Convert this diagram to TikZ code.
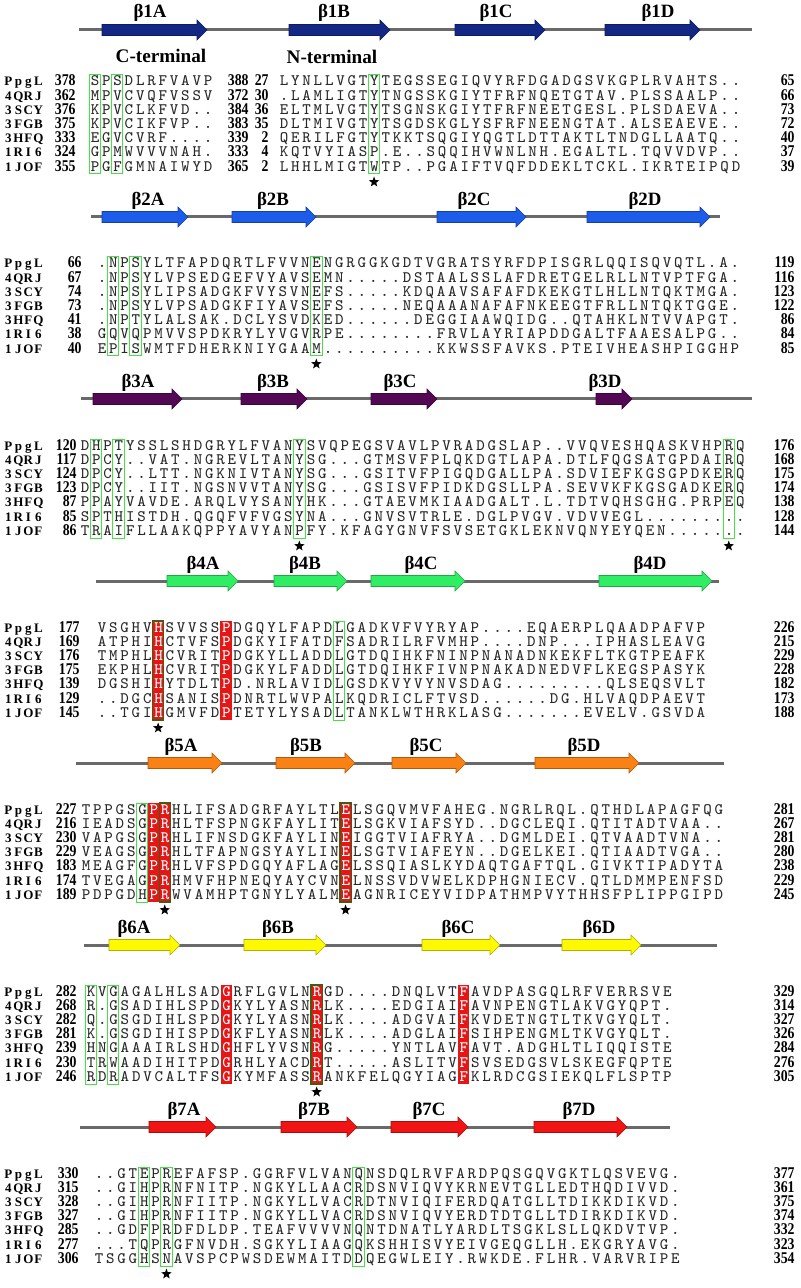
\documentclass[tikz,border=0pt]{standalone}
\usepackage{fontspec}
\newfontfamily\serifbf{Liberation Serif}
\newfontfamily\numfont{Liberation Serif}[FakeStretch=0.84]
\usetikzlibrary{shapes.geometric}
\definecolor{ink}{RGB}{40,40,40}
\definecolor{slate}{RGB}{105,105,105}
\definecolor{navy}{RGB}{18,40,132}
\definecolor{royal}{RGB}{28,92,232}
\definecolor{plum}{RGB}{82,8,82}
\definecolor{mint}{RGB}{48,238,100}
\definecolor{amber}{RGB}{250,130,20}
\definecolor{lemon}{RGB}{255,250,0}
\definecolor{crimson}{RGB}{240,20,20}
\definecolor{consred}{RGB}{228,22,22}
\definecolor{boxgreen}{RGB}{70,225,70}
\definecolor{olive}{RGB}{70,90,20}

% one character per fixed cell; "!" makes the next one white
\newlength\cellwd
\def\cellloop#1{\ifx#1\relax\let\cellnext\relax\else\ifx#1!\let\cellnext\cellwhite\else\makebox[\cellwd]{#1}\let\cellnext\cellloop\fi\fi\cellnext}
\def\cellwhite#1{\makebox[\cellwd]{\textcolor{white}{#1}}\cellloop}
\newcommand\seq[1]{{\setlength\cellwd{5.65pt}\cellloop#1\relax}}
\newcommand\molname[1]{{\setlength\cellwd{5pt}\cellloop#1\relax}}
\def\pw{11.3}

\tikzset{
  molname/.style={anchor=base west, inner sep=0pt, font=\serifbf\bfseries\fontsize{6.5}{6.5}\selectfont},
  resnum/.style={anchor=base east, inner sep=0pt, font=\numfont\bfseries\fontsize{8.2}{8.2}\selectfont},
  seqtxt/.style={anchor=base west, inner sep=0pt, text=ink, font=\ttfamily\fontsize{8}{8}\selectfont},
  strandlab/.style={inner sep=0pt, font=\serifbf\bfseries\fontsize{9.4}{9.4}\selectfont},
  termlab/.style={inner sep=0pt, font=\serifbf\bfseries\fontsize{9.6}{9.6}\selectfont},
  loopline/.style={line width=1.5pt, draw=slate},
  simbox/.style={draw=boxgreen, line width=0.5pt},
  framebox/.style={draw=olive, line width=0.6pt},
  starmark/.style={star, star points=5, star point ratio=2.4, fill=black, inner sep=0pt, minimum size=5.5pt},
}

\newcommand\strand[4]{\filldraw[fill=#4, draw=#4!70!black, line width=0.3pt] (#1,{#3-5.5}) -- ({#2-10},{#3-5.5}) -- ({#2-10},{#3-10}) -- (#2,#3) -- ({#2-10},{#3+10}) -- ({#2-10},{#3+5.5}) -- (#1,{#3+5.5}) -- cycle;}
\newcommand\redcol[3]{\fill[consred] ({\seqx+#1*\pw},#2) rectangle ({\seqx+(#1+1)*\pw},#3);}
\newcommand\greencol[3]{\draw[simbox] ({\seqx+#1*\pw},#2) rectangle ({\seqx+(#1+1)*\pw},#3);}
\newcommand\framecol[3]{\draw[framebox] ({\seqx+#1*\pw},#2) rectangle ({\seqx+(#1+1)*\pw},#3);}
\newcommand\starat[3]{\node[starmark] (#1) at ({\seqx+(#2+0.5)*\pw},#3) {};}
\newcommand\seqrow[6]{%
  \node[molname] (#1-n) at (3,{#2+4}) {\molname{#3}};
  \node[resnum] (#1-s) at (\numx,{#2+4}) {#4};
  \node[seqtxt] (#1-q) at (\seqx,{#2+4}) {\seq{#5}};
  \node[resnum] (#1-e) at (795,{#2+4}) {#6};}
\newcommand\splitrow[9]{%
  \node[molname] (#1-n) at (3,{#2+4}) {\molname{#3}};
  \node[resnum] (#1-s) at (76,{#2+4}) {#4};
  \node[seqtxt] (#1-q) at (89,{#2+4}) {\seq{#5}};
  \node[resnum] (#1-m) at (249,{#2+4}) {#6};
  \node[resnum] (#1-t) at (269,{#2+4}) {#7};
  \node[seqtxt] (#1-r) at (278,{#2+4}) {\seq{#8}};
  \node[resnum] (#1-e) at (795,{#2+4}) {#9};}

\begin{document}
\begin{tikzpicture}[x=0.5pt,y=-0.5pt]
  \fill[white] (0,0) rectangle (800,1288);
  \useasboundingbox (0,0) rectangle (800,1288);
  % ===================== block 1 =====================
  \draw[loopline] (79,30) -- (752,30);
  \strand{102}{207}{30}{navy} \strand{289}{390}{30}{navy}
  \strand{455}{545}{30}{navy} \strand{605}{700}{30}{navy}
  \node[strandlab] (b1A) at (150,13) {β1A};
  \node[strandlab] (b1B) at (334,13) {β1B};
  \node[strandlab] (b1C) at (496,13) {β1C};
  \node[strandlab] (b1D) at (658,13) {β1D};
  \node[termlab] (cterm) at (161,56) {C-terminal};
  \node[termlab] (nterm) at (332,57) {N-terminal};
  \splitrow{r1a}{82}{PpgL}{378}{SPSDLRFVAVP}{388}{27}{LYNLLVGTYTEGSSEGIQVYRFDGADGSVKGPLRVAHTS..}{65}
  \splitrow{r1b}{96.2}{4QRJ}{362}{MPVCVQFVSSV}{372}{30}{.LAMLIGTYTNGSSKGIYTFRFNQETGTAV.PLSSAALP..}{66}
  \splitrow{r1c}{110.4}{3SCY}{376}{KPVCLKFVD..}{384}{36}{ELTMLVGTYTSGNSKGIYTFRFNEETGESL.PLSDAEVA..}{73}
  \splitrow{r1d}{124.6}{3FGB}{375}{KPVCIKFVP..}{383}{35}{DLTMIVGTYTSGDSKGLYSFRFNEENGTAT.ALSEAEVE..}{72}
  \splitrow{r1e}{138.8}{3HFQ}{333}{EGVCVRF....}{339}{2}{QERILFGTYTKKTSQGIYQGTLDTTAKTLTNDGLLAATQ..}{40}
  \splitrow{r1f}{153}{1RI6}{324}{GPMWVVVNAH.}{333}{4}{KQTVYIASP.E..SQQIHVWNLNH.EGALTL.TQVVDVP..}{37}
  \splitrow{r1g}{167.2}{1JOF}{355}{PGFGMNAIWYD}{365}{2}{LHHLMIGTWTP..PGAIFTVQFDDEKLTCKL.IKRTEIPQD}{39}
  \def\seqx{89}
  \greencol{0}{75}{174} \greencol{2}{75}{174}
  \def\seqx{278}
  \greencol{8}{75}{174}
  \starat{s1}{8}{182}
  % ===================== block 2 =====================
  \def\numx{82}\def\seqx{96}
  \draw[loopline] (91,217) -- (720,217);
  \strand{102}{188}{217}{royal} \strand{232}{316}{217}{royal}
  \strand{437}{526}{217}{royal} \strand{587}{710}{217}{royal}
  \node[strandlab] (b2A) at (148,201) {β2A};
  \node[strandlab] (b2B) at (273,201) {β2B};
  \node[strandlab] (b2C) at (474,201) {β2C};
  \node[strandlab] (b2D) at (645,201) {β2D};
  \seqrow{r2a}{264}{PpgL}{66}{.NPSYLTFAPDQRTLFVVNENGRGGKGDTVGRATSYRFDPISGRLQQISQVQTL.A.}{119}
  \seqrow{r2b}{278.2}{4QRJ}{67}{.NPSYLVPSEDGEFVYAVSEMN.....DSTAALSSLAFDRETGELRLLNTVPTFGA.}{116}
  \seqrow{r2c}{292.4}{3SCY}{74}{.NPSYLIPSADGKFVYSVNEFS.....KDQAAVSAFAFDKEKGTLHLLNTQKTMGA.}{123}
  \seqrow{r2d}{306.6}{3FGB}{73}{.NPSYLVPSADGKFIYAVSEFS.....NEQAAANAFAFNKEEGTFRLLNTQKTGGE.}{122}
  \seqrow{r2e}{320.8}{3HFQ}{41}{.NPTYLALSAK.DCLYSVDKED......DEGGIAAWQIDG..QTAHKLNTVVAPGT.}{86}
  \seqrow{r2f}{335}{1RI6}{38}{GQVQPMVVSPDKRYLYVGVRPE........FRVLAYRIAPDDGALTFAAESALPG..}{84}
  \seqrow{r2g}{349.2}{1JOF}{40}{EPISWMTFDHERKNIYGAAM..........KKWSSFAVKS.PTEIVHEASHPIGGHP}{85}
  \greencol{1}{257}{356} \greencol{3}{257}{356} \greencol{19}{257}{356}
  \starat{s2}{19}{364}
  % ===================== block 3 =====================
  \def\numx{77}\def\seqx{79}
  \draw[loopline] (81,399) -- (752,399);
  \strand{93}{182}{399}{plum} \strand{241}{307}{399}{plum}
  \strand{371}{437}{399}{plum} \strand{596}{632}{399}{plum}
  \node[strandlab] (b3A) at (138,383) {β3A};
  \node[strandlab] (b3B) at (273,383) {β3B};
  \node[strandlab] (b3C) at (400,383) {β3C};
  \node[strandlab] (b3D) at (605,383) {β3D};
  \seqrow{r3a}{446}{PpgL}{120}{DHPTYSSLSHDGRYLFVANYSVQPEGSVAVLPVRADGSLAP..VVQVESHQASKVHPRQ}{176}
  \seqrow{r3b}{460.2}{4QRJ}{117}{DPCY..VAT.NGREVLTANYSG...GTMSVFPLQKDGTLAPA.DTLFQGSATGPDAIRQ}{168}
  \seqrow{r3c}{474.4}{3SCY}{124}{DPCY..LTT.NGKNIVTANYSG...GSITVFPIGQDGALLPA.SDVIEFKGSGPDKERQ}{175}
  \seqrow{r3d}{488.6}{3FGB}{123}{DPCY..IIT.NGSNVVTANYSG...GSISVFPIDKDGSLLPA.SEVVKFKGSGADKERQ}{174}
  \seqrow{r3e}{502.8}{3HFQ}{87}{PPAYVAVDE.ARQLVYSANYHK...GTAEVMKIAADGALT.L.TDTVQHSGHG.PRPEQ}{138}
  \seqrow{r3f}{517}{1RI6}{85}{SPTHISTDH.QGQFVFVGSYNA...GNVSVTRLE.DGLPVGV.VDVVEGL.........}{128}
  \seqrow{r3g}{531.2}{1JOF}{86}{TRAIFLLAAKQPPYAVYANPFY.KFAGYGNVFSVSETGKLEKNVQNYEYQEN.......}{144}
  \greencol{1}{439}{538} \greencol{3}{439}{538} \greencol{19}{439}{538} \greencol{57}{439}{538}
  \starat{s3a}{19}{546} \starat{s3b}{57}{546}
  % ===================== block 4 =====================
  \def\numx{80}\def\seqx{96}
  \draw[loopline] (96,581) -- (719,581);
  \strand{167}{238}{581}{mint} \strand{274}{347}{581}{mint}
  \strand{371}{465}{581}{mint} \strand{599}{712}{581}{mint}
  \node[strandlab] (b4A) at (203,565) {β4A};
  \node[strandlab] (b4B) at (305,565) {β4B};
  \node[strandlab] (b4C) at (421,565) {β4C};
  \node[strandlab] (b4D) at (650,565) {β4D};
  \redcol{5}{621}{720} \redcol{11}{621}{720}
  \seqrow{r4a}{628}{PpgL}{177}{VSGHV!HSVVSS!PDGQYLFAPDLGADKVFVYRYAP....EQAERPLQAADPAFVP}{226}
  \seqrow{r4b}{642.2}{4QRJ}{169}{ATPHI!HCTVFS!PDGKYIFATDFSADRILRFVMHP....DNP...IPHASLEAVG}{215}
  \seqrow{r4c}{656.4}{3SCY}{176}{TMPHL!HCVRIT!PDGKYLLADDLGTDQIHKFNINPNANADNKEKFLTKGTPEAFK}{229}
  \seqrow{r4d}{670.6}{3FGB}{175}{EKPHL!HCVRIT!PDGKYLFADDLGTDQIHKFIVNPNAKADNEDVFLKEGSPASYK}{228}
  \seqrow{r4e}{684.8}{3HFQ}{139}{DGSHI!HYTDLT!PD.NRLAVIDLGSDKVYVYNVSDAG.........QLSEQSVLT}{182}
  \seqrow{r4f}{699}{1RI6}{129}{..DGC!HSANIS!PDNRTLWVPALKQDRICLFTVSD......DG.HLVAQDPAEVT}{173}
  \seqrow{r4g}{713.2}{1JOF}{145}{..TGI!HGMVFD!PTETYLYSADLTANKLWTHRKLASG.......EVELV.GSVDA}{188}
  \framecol{5}{621}{720} \greencol{21}{621}{720}
  \starat{s4}{5}{728}
  % ===================== block 5 =====================
  \def\numx{77}\def\seqx{80}
  \draw[loopline] (76,763) -- (724,763);
  \strand{148}{222}{763}{amber} \strand{276}{355}{763}{amber}
  \strand{392}{466}{763}{amber} \strand{535}{639}{763}{amber}
  \node[strandlab] (b5A) at (181,747) {β5A};
  \node[strandlab] (b5B) at (306,747) {β5B};
  \node[strandlab] (b5C) at (426,747) {β5C};
  \node[strandlab] (b5D) at (584,747) {β5D};
  \redcol{6}{803}{902} \redcol{7}{803}{902} \redcol{23}{803}{902}
  \seqrow{r5a}{810}{PpgL}{227}{TPPGSG!P!RHLIFSADGRFAYLTL!ELSGQVMVFAHEG.NGRLRQL.QTHDLAPAGFQG}{281}
  \seqrow{r5b}{824.2}{4QRJ}{216}{IEADSG!P!RHLTFSPNGKFAYLIT!ELSGKVIAFSYD..DGCLEQI.QTITADTVAA..}{267}
  \seqrow{r5c}{838.4}{3SCY}{230}{VAPGSG!P!RHLIFNSDGKFAYLIN!EIGGTVIAFRYA..DGMLDEI.QTVAADTVNA..}{281}
  \seqrow{r5d}{852.6}{3FGB}{229}{VEAGSG!P!RHLTFAPNGSYAYLIN!ELSGTVIAFEYN..DGELKEI.QTIAADTVGA..}{280}
  \seqrow{r5e}{866.8}{3HFQ}{183}{MEAGFG!P!RHLVFSPDGQYAFLAG!ELSSQIASLKYDAQTGAFTQL.GIVKTIPADYTA}{238}
  \seqrow{r5f}{881}{1RI6}{174}{TVEGAG!P!RHMVFHPNEQYAYCVN!ELNSSVDVWELKDPHGNIECV.QTLDMMPENFSD}{229}
  \seqrow{r5g}{895.2}{1JOF}{189}{PDPGDH!P!RWVAMHPTGNYLYALM!EAGNRICEYVIDPATHMPVYTHHSFPLIPPGIPD}{245}
  \greencol{5}{803}{902} \framecol{7}{803}{902} \framecol{23}{803}{902}
  \starat{s5a}{7}{910} \starat{s5b}{23}{910}
  % ===================== block 6 =====================
  \def\numx{77}\def\seqx{85}
  \draw[loopline] (84,945) -- (717,945);
  \strand{109}{180}{945}{lemon} \strand{244}{326}{945}{lemon}
  \strand{422}{500}{945}{lemon} \strand{562}{641}{945}{lemon}
  \node[strandlab] (b6A) at (134,929) {β6A};
  \node[strandlab] (b6B) at (278,929) {β6B};
  \node[strandlab] (b6C) at (458,929) {β6C};
  \node[strandlab] (b6D) at (599,929) {β6D};
  \redcol{12}{985}{1084} \redcol{20}{985}{1084} \redcol{33}{985}{1084}
  \seqrow{r6a}{992}{PpgL}{282}{KVGAGALHLSAD!GRFLGVLN!RGD....DNQLVT!FAVDPASGQLRFVERRSVE}{329}
  \seqrow{r6b}{1006.2}{4QRJ}{268}{R.GSADIHLSPD!GKYLYASN!RLK....EDGIAI!FAVNPENGTLAKVGYQPT.}{314}
  \seqrow{r6c}{1020.4}{3SCY}{282}{Q.GSGDIHLSPD!GKYLYASN!RLK....ADGVAI!FKVDETNGTLTKVGYQLT.}{327}
  \seqrow{r6d}{1034.6}{3FGB}{281}{K.GSGDIHISPD!GKFLYASN!RLK....ADGLAI!FSIHPENGMLTKVGYQLT.}{326}
  \seqrow{r6e}{1048.8}{3HFQ}{239}{HNGAAAIRLSHD!GHFLYVSN!RG.....YNTLAV!FAVT.ADGHLTLIQQISTE}{284}
  \seqrow{r6f}{1063}{1RI6}{230}{TRWAADIHITPD!GRHLYACD!RT.....ASLITV!FSVSEDGSVLSKEGFQPTE}{276}
  \seqrow{r6g}{1077.2}{1JOF}{246}{RDRADVCALTFS!GKYMFASS!RANKFELQGYIAG!FKLRDCGSIEKQLFLSPTP}{305}
  \greencol{0}{985}{1084} \greencol{2}{985}{1084} \framecol{20}{985}{1084}
  \starat{s6}{20}{1092}
  % ===================== block 7 =====================
  \def\numx{79}\def\seqx{93}
  \draw[loopline] (80,1127) -- (670,1127);
  \strand{149}{216}{1127}{crimson} \strand{281}{357}{1127}{crimson}
  \strand{391}{468}{1127}{crimson} \strand{534}{627}{1127}{crimson}
  \node[strandlab] (b7A) at (184,1111) {β7A};
  \node[strandlab] (b7B) at (314,1111) {β7B};
  \node[strandlab] (b7C) at (429,1111) {β7C};
  \node[strandlab] (b7D) at (579,1111) {β7D};
  \seqrow{r7a}{1174}{PpgL}{330}{..GTEPREFAFSP.GGRFVLVANQNSDQLRVFARDPQSGQVGKTLQSVEVG.}{377}
  \seqrow{r7b}{1188.2}{4QRJ}{315}{..GIHPRNFNITP.NGKYLLAACRDSNVIQVYKRNEVTGLLEDTHQDIVVD.}{361}
  \seqrow{r7c}{1202.4}{3SCY}{328}{..GIHPRNFIITP.NGKYLLVACRDTNVIQIFERDQATGLLTDIKKDIKVD.}{375}
  \seqrow{r7d}{1216.6}{3FGB}{327}{..GIHPRNFIITP.NGKYLLVACRDSNVIQVYERDTDTGLLTDIRKDIKVD.}{374}
  \seqrow{r7e}{1230.8}{3HFQ}{285}{..GDFPRDFDLDP.TEAFVVVVNQNTDNATLYARDLTSGKLSLLQKDVTVP.}{332}
  \seqrow{r7f}{1245}{1RI6}{277}{...TQPRGFNVDH.SGKYLIAAGQKSHHISVYEIVGEQGLLH.EKGRYAVG.}{323}
  \seqrow{r7g}{1259.2}{1JOF}{306}{TSGGHSNAVSPCPWSDEWMAITDDQEGWLEIY.RWKDE.FLHR.VARVRIPE}{354}
  \greencol{4}{1167}{1266} \greencol{6}{1167}{1266} \greencol{23}{1167}{1266}
  \starat{s7}{6}{1274}
\end{tikzpicture}
\end{document}
